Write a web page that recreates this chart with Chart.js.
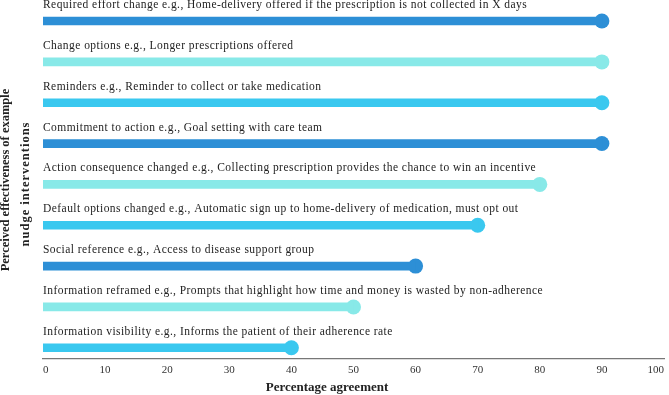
<!DOCTYPE html>
<html>
<head>
<meta charset="utf-8">
<script src="https://cdn.jsdelivr.net/npm/chart.js@4.4.1/dist/chart.umd.min.js"></script>
<style>
  html, body { margin: 0; padding: 0; background: #fff; }
  #wrap { width: 669px; height: 395px; }
</style>
</head>
<body>
<div id="wrap"><canvas id="nudgeChart"></canvas></div>
<script>
// intervention names (top to bottom) and their % agreement
const interventions = [
    'Required effort change e.g., Home-delivery offered if the prescription is not collected in X days',
    'Change options e.g., Longer prescriptions offered',
    'Reminders e.g., Reminder to collect or take medication',
    'Commitment to action e.g., Goal setting with care team',
    'Action consequence changed e.g., Collecting prescription provides the chance to win an incentive',
    'Default options changed e.g., Automatic sign up to home-delivery of medication, must opt out',
    'Social reference e.g., Access to disease support group',
    'Information reframed e.g., Prompts that highlight how time and money is wasted by non-adherence',
    'Information visibility e.g., Informs the patient of their adherence rate'
];
const agreement = [90, 90, 90, 90, 80, 70, 60, 50, 40];
const xTicks = [0, 10, 20, 30, 40, 50, 60, 70, 80, 90, 100];

const yTitleLines = ['Perceived effectiveness of example', 'nudge interventions'];
const xTitle = 'Percentage agreement';

// colours cycle dark blue / pale cyan / sky blue
const palette = ['#2d8fd6', '#88e9e8', '#3ac8ef'];
const rowColors = agreement.map((v, i) => palette[i % 3]);

const serif = '"Liberation Serif", "Times New Roman", serif';

// labels sit above each bar, titles drawn by hand so they can go where the original has them
const textPlugin = {
    id: 'textPlugin',
    afterDraw(chart) {
        const ctx = chart.ctx;
        const area = chart.chartArea;
        const yScale = chart.scales.y;
        ctx.save();
        ctx.fillStyle = '#222';
        ctx.font = '11.5px ' + serif;
        ctx.letterSpacing = '0.45px';
        ctx.textAlign = 'left';
        ctx.textBaseline = 'alphabetic';
        interventions.forEach((txt, i) => {
            const y = yScale.getPixelForValue(i);
            ctx.fillText(txt, area.left, y - 13);
        });
        ctx.letterSpacing = '0px';

        // x title
        ctx.font = 'bold 13px ' + serif;
        ctx.textAlign = 'center';
        ctx.textBaseline = 'middle';
        ctx.fillText(xTitle, 327, 388);

        // y title, two lines rotated
        ctx.font = 'bold 12.5px ' + serif;
        ctx.save();
        ctx.translate(6, 180);
        ctx.rotate(-Math.PI / 2);
        ctx.fillText(yTitleLines[0], 0, 0);
        ctx.restore();
        ctx.save();
        ctx.letterSpacing = '1px';
        ctx.translate(26, 184);
        ctx.rotate(-Math.PI / 2);
        ctx.fillText(yTitleLines[1], 0, 0);
        ctx.restore();
        ctx.restore();
    }
};

new Chart(document.getElementById('nudgeChart'), {
    data: {
        datasets: [
            {
                type: 'bar',
                data: agreement.map((v, i) => ({ x: v, y: i })),
                backgroundColor: rowColors,
                barThickness: 8,
                borderWidth: 0
            },
            {
                type: 'scatter',
                data: agreement.map((v, i) => ({ x: v, y: i })),
                pointRadius: 7.5,
                pointHoverRadius: 7.5,
                pointBackgroundColor: rowColors,
                pointBorderWidth: 0
            }
        ]
    },
    options: {
        indexAxis: 'y',
        responsive: true,
        maintainAspectRatio: false,
        animation: false,
        layout: { autoPadding: false, padding: { left: 43, right: -2, top: 0, bottom: 13 } },
        plugins: {
            legend: { display: false },
            tooltip: { enabled: false }
        },
        scales: {
            x: {
                type: 'linear',
                min: 0,
                max: 100,
                afterBuildTicks: (axis) => { axis.ticks = xTicks.map(v => ({ value: v })); },
                grid: { display: false, drawTicks: false },
                border: { display: true, color: '#777', width: 1.2 },
                ticks: {
                    align: 'inner',
                    padding: 5,
                    color: '#333',
                    font: { family: serif, size: 11 }
                }
            },
            y: {
                type: 'linear',
                reverse: true,
                offset: false,
                min: -0.515,
                max: 8.27,
                display: false
            }
        }
    },
    plugins: [textPlugin]
});
</script>
</body>
</html>
